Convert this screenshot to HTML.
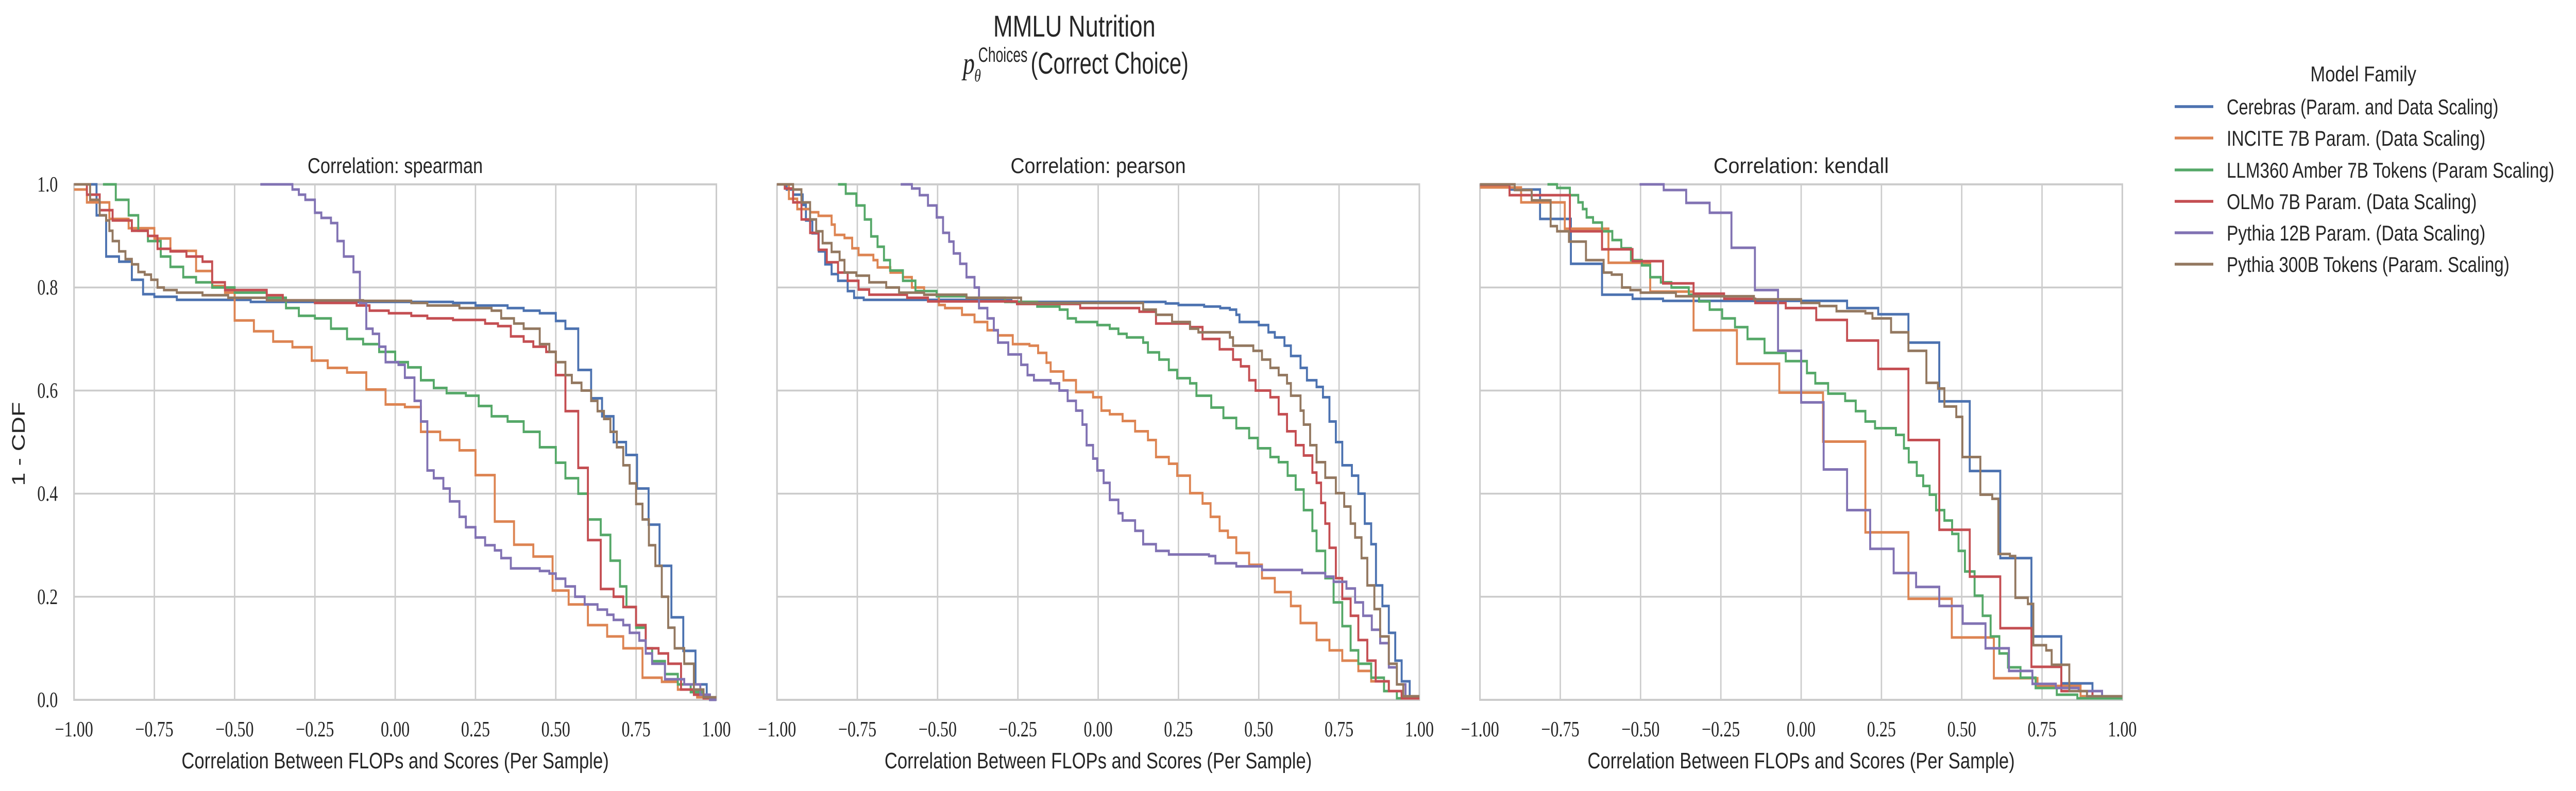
<!DOCTYPE html>
<html><head><meta charset="utf-8">
<style>
html,body{margin:0;padding:0;background:#fff;width:100vw;height:100vh;overflow:hidden;}
svg{display:block;width:100vw;height:100vh;}
.sans{font-family:"Liberation Sans","DejaVu Sans",sans-serif;fill:#262626;}
.serif{font-family:"Liberation Serif","DejaVu Serif",serif;fill:#262626;}
</style></head>
<body>
<svg id="fig" xmlns="http://www.w3.org/2000/svg" viewBox="0 0 6541 1536" preserveAspectRatio="none">
<rect x="0" y="0" width="6541" height="1536" fill="#fff"/>
<text class="sans" x="2522" y="71" font-size="58" textLength="412" lengthAdjust="spacingAndGlyphs">MMLU Nutrition</text>
<g>
<text class="serif" x="2445" y="143" font-size="60" font-style="italic">p</text>
<text class="serif" x="2474" y="158" font-size="34" font-style="italic">θ</text>
<text class="sans" x="2484" y="120" font-size="40" textLength="125" lengthAdjust="spacingAndGlyphs">Choices</text>
<text class="sans" x="2617" y="143" font-size="58" textLength="401" lengthAdjust="spacingAndGlyphs">(Correct Choice)</text>
</g>
<g id="panels"></g>
<g id="legend"></g>
</svg>
<script>
const NS="http://www.w3.org/2000/svg";
const seriesNames=["Cerebras (Param. and Data Scaling)","INCITE 7B Param. (Data Scaling)","LLM360 Amber 7B Tokens (Param Scaling)","OLMo 7B Param. (Data Scaling)","Pythia 12B Param. (Data Scaling)","Pythia 300B Tokens (Param. Scaling)"];
const seriesColors=["#4c72b0","#dd8452","#55a868","#c44e52","#8172b3","#937860"];
const panelTitles=["Correlation: spearman","Correlation: pearson","Correlation: kendall"];
const xTicks=[-1,-0.75,-0.5,-0.25,0,0.25,0.5,0.75,1];
const xTickLabels=["\u22121.00","\u22120.75","\u22120.50","\u22120.25","0.00","0.25","0.50","0.75","1.00"];
const yTicks=[0,0.2,0.4,0.6,0.8,1.0];
const yTickLabels=["0.0","0.2","0.4","0.6","0.8","1.0"];

// ---- spearman ----
const spX0=[-1,-0.93,-0.9,-0.86,-0.82,-0.785,-0.75,-0.68,-0.45,0.18,0.25,0.35,0.4,0.45,0.5,0.53,0.57,0.61,0.644,0.68,0.719,0.753,0.789,0.823,0.86,0.897,0.935,0.97];
const spY0=[1.0,0.94,0.86,0.85,0.815,0.787,0.782,0.776,0.772,0.77,0.765,0.76,0.755,0.75,0.735,0.72,0.64,0.585,0.55,0.5,0.475,0.41,0.34,0.26,0.16,0.095,0.03,0.005];
const spX1=[-1,-0.96,-0.89,-0.83,-0.75,-0.7,-0.62,-0.57,-0.53,-0.5,-0.44,-0.38,-0.32,-0.26,-0.21,-0.15,-0.09,-0.03,0.03,0.08,0.14,0.2,0.25,0.31,0.37,0.43,0.49,0.54,0.6,0.66,0.71,0.77,0.83,0.88,0.94];
const spY1=[0.99,0.965,0.933,0.915,0.895,0.871,0.832,0.803,0.79,0.736,0.715,0.695,0.684,0.658,0.644,0.635,0.602,0.573,0.568,0.52,0.504,0.484,0.436,0.346,0.301,0.278,0.212,0.185,0.145,0.123,0.1,0.043,0.035,0.02,0.005];
const spX2=[-0.91,-0.87,-0.83,-0.8,-0.77,-0.73,-0.7,-0.66,-0.62,-0.57,-0.5,-0.4,-0.34,-0.3,-0.25,-0.2,-0.15,-0.1,-0.05,0.0,0.04,0.08,0.12,0.16,0.22,0.26,0.3,0.35,0.4,0.45,0.5,0.53,0.57,0.6,0.64,0.67,0.7,0.72,0.75,0.78,0.8,0.84,0.88,0.92,0.96,0.99];
const spY2=[1.0,0.97,0.94,0.91,0.89,0.86,0.84,0.82,0.81,0.8,0.79,0.78,0.76,0.745,0.74,0.72,0.7,0.69,0.675,0.655,0.645,0.62,0.605,0.595,0.59,0.57,0.55,0.54,0.52,0.49,0.46,0.43,0.4,0.35,0.32,0.27,0.22,0.18,0.14,0.1,0.075,0.05,0.03,0.015,0.005,0];
const spX3=[-1,-0.96,-0.92,-0.88,-0.82,-0.77,-0.74,-0.7,-0.65,-0.6,-0.57,-0.53,-0.4,-0.35,-0.25,-0.12,-0.08,-0.02,0.05,0.1,0.18,0.28,0.32,0.36,0.4,0.43,0.47,0.5,0.53,0.57,0.6,0.64,0.68,0.71,0.75,0.78,0.82,0.85,0.89,0.93,0.96];
const spY3=[1.0,0.98,0.95,0.93,0.91,0.9,0.875,0.87,0.86,0.85,0.81,0.795,0.785,0.775,0.77,0.765,0.755,0.75,0.745,0.74,0.737,0.73,0.725,0.705,0.695,0.685,0.675,0.63,0.56,0.45,0.31,0.215,0.2,0.18,0.145,0.1,0.09,0.07,0.02,0.01,0.003];
const spX4=[-0.42,-0.32,-0.3,-0.28,-0.25,-0.23,-0.2,-0.18,-0.16,-0.13,-0.11,-0.09,-0.07,-0.05,-0.03,0.01,0.03,0.06,0.08,0.1,0.12,0.15,0.17,0.2,0.22,0.25,0.28,0.31,0.33,0.36,0.45,0.48,0.5,0.53,0.56,0.59,0.63,0.66,0.68,0.71,0.73,0.76,0.78,0.8,0.84,0.9,0.95,0.98];
const spY4=[1.0,0.99,0.98,0.97,0.945,0.935,0.925,0.89,0.86,0.83,0.77,0.72,0.71,0.685,0.655,0.65,0.625,0.58,0.54,0.445,0.43,0.41,0.385,0.355,0.335,0.315,0.3,0.29,0.275,0.255,0.25,0.245,0.235,0.22,0.2,0.185,0.175,0.165,0.155,0.145,0.13,0.115,0.09,0.07,0.04,0.03,0.01,0];
const spX5=[-1,-0.95,-0.92,-0.9,-0.89,-0.88,-0.86,-0.84,-0.82,-0.8,-0.78,-0.76,-0.74,-0.72,-0.68,-0.6,-0.52,-0.4,-0.1,0.05,0.1,0.2,0.3,0.33,0.37,0.4,0.45,0.48,0.5,0.53,0.55,0.58,0.61,0.63,0.65,0.67,0.69,0.71,0.73,0.75,0.77,0.79,0.81,0.83,0.85,0.87,0.9,0.93,0.96];
const spY5=[1,0.97,0.94,0.93,0.91,0.89,0.87,0.855,0.845,0.83,0.825,0.815,0.8,0.795,0.79,0.785,0.78,0.775,0.774,0.77,0.765,0.76,0.755,0.74,0.73,0.72,0.69,0.675,0.655,0.63,0.615,0.6,0.58,0.56,0.545,0.52,0.49,0.455,0.42,0.38,0.35,0.3,0.26,0.2,0.14,0.1,0.07,0.02,0.005];
// ---- pearson ----
const peX0=[-1,-0.97,-0.95,-0.92,-0.91,-0.89,-0.87,-0.85,-0.83,-0.81,-0.78,-0.76,-0.73,-0.29,-0.27,0.21,0.25,0.33,0.38,0.41,0.43,0.44,0.5,0.53,0.55,0.58,0.6,0.63,0.65,0.68,0.7,0.72,0.74,0.76,0.79,0.81,0.83,0.85,0.865,0.885,0.905,0.925,0.945,0.97];
const peY0=[1.0,0.99,0.98,0.96,0.93,0.905,0.87,0.845,0.826,0.813,0.793,0.78,0.776,0.775,0.772,0.769,0.766,0.763,0.76,0.757,0.747,0.733,0.727,0.713,0.703,0.687,0.667,0.644,0.62,0.607,0.587,0.54,0.5,0.455,0.435,0.4,0.342,0.302,0.222,0.182,0.13,0.076,0.036,0.007];
const peX1=[-1,-0.963,-0.937,-0.897,-0.871,-0.83,-0.82,-0.79,-0.766,-0.746,-0.7,-0.687,-0.647,-0.608,-0.58,-0.542,-0.496,-0.477,-0.424,-0.385,-0.345,-0.312,-0.266,-0.214,-0.187,-0.161,-0.148,-0.108,-0.069,-0.016,0.01,0.036,0.076,0.115,0.155,0.18,0.22,0.246,0.286,0.325,0.35,0.378,0.404,0.43,0.47,0.51,0.55,0.6,0.63,0.68,0.72,0.76,0.81,0.85,0.905,0.945];
const peY1=[1.0,0.972,0.952,0.946,0.939,0.922,0.902,0.896,0.876,0.863,0.853,0.839,0.829,0.82,0.8,0.786,0.766,0.76,0.747,0.733,0.717,0.707,0.69,0.687,0.673,0.654,0.637,0.62,0.597,0.587,0.561,0.554,0.541,0.521,0.504,0.471,0.458,0.435,0.401,0.381,0.355,0.328,0.315,0.285,0.262,0.236,0.209,0.182,0.149,0.116,0.096,0.076,0.056,0.036,0.017,0.003];
const peX2=[-0.81,-0.786,-0.753,-0.727,-0.707,-0.687,-0.667,-0.648,-0.608,-0.569,-0.503,-0.41,-0.29,-0.19,-0.12,-0.095,-0.069,-0.003,0.036,0.063,0.089,0.14,0.155,0.19,0.22,0.246,0.286,0.306,0.352,0.39,0.43,0.47,0.497,0.536,0.562,0.59,0.615,0.64,0.667,0.68,0.707,0.733,0.76,0.786,0.81,0.85,0.89,0.93];
const peY2=[1.0,0.982,0.959,0.932,0.899,0.879,0.853,0.833,0.813,0.793,0.783,0.78,0.772,0.763,0.757,0.74,0.733,0.727,0.72,0.71,0.703,0.693,0.674,0.66,0.64,0.624,0.614,0.59,0.567,0.547,0.527,0.508,0.488,0.471,0.461,0.435,0.408,0.368,0.328,0.289,0.236,0.189,0.143,0.096,0.07,0.043,0.017,0.003];
const peX3=[-1,-0.976,-0.95,-0.924,-0.897,-0.871,-0.845,-0.81,-0.78,-0.746,-0.713,-0.595,-0.53,-0.253,-0.056,0.128,0.18,0.286,0.325,0.378,0.42,0.444,0.47,0.49,0.536,0.562,0.588,0.615,0.64,0.667,0.68,0.694,0.707,0.72,0.74,0.76,0.786,0.81,0.838,0.864,0.905,0.945];
const peY3=[1.0,0.992,0.965,0.932,0.906,0.873,0.849,0.829,0.813,0.796,0.786,0.78,0.773,0.768,0.76,0.753,0.73,0.723,0.7,0.68,0.66,0.647,0.62,0.6,0.587,0.554,0.521,0.494,0.474,0.441,0.421,0.382,0.342,0.295,0.236,0.196,0.163,0.116,0.076,0.036,0.017,0.003];
const peX4=[-0.615,-0.58,-0.556,-0.53,-0.503,-0.483,-0.464,-0.45,-0.43,-0.41,-0.385,-0.371,-0.345,-0.325,-0.312,-0.28,-0.24,-0.22,-0.2,-0.148,-0.121,-0.095,-0.069,-0.049,-0.036,-0.016,-0.003,0.017,0.036,0.063,0.076,0.115,0.14,0.18,0.22,0.345,0.365,0.43,0.51,0.635,0.707,0.733,0.773,0.8,0.825,0.852,0.878,0.905,0.93,0.957];
const peY4=[1.0,0.992,0.979,0.959,0.936,0.906,0.889,0.866,0.846,0.82,0.8,0.76,0.74,0.717,0.693,0.67,0.65,0.63,0.62,0.614,0.6,0.58,0.561,0.534,0.494,0.468,0.445,0.421,0.388,0.362,0.348,0.328,0.302,0.289,0.282,0.279,0.265,0.259,0.252,0.246,0.239,0.229,0.216,0.189,0.163,0.136,0.11,0.063,0.03,0.007];
const peX5=[-1,-0.95,-0.924,-0.897,-0.878,-0.858,-0.83,-0.805,-0.79,-0.753,-0.713,-0.66,-0.62,-0.542,-0.41,-0.24,0.14,0.18,0.23,0.286,0.312,0.41,0.42,0.483,0.51,0.536,0.562,0.588,0.6,0.63,0.64,0.66,0.68,0.707,0.74,0.766,0.786,0.8,0.82,0.838,0.86,0.878,0.905,0.93,0.95];
const peY5=[1.0,0.99,0.965,0.932,0.909,0.886,0.869,0.853,0.829,0.823,0.81,0.8,0.79,0.786,0.78,0.77,0.757,0.747,0.733,0.72,0.713,0.703,0.687,0.677,0.66,0.644,0.63,0.614,0.59,0.561,0.534,0.494,0.461,0.431,0.401,0.375,0.342,0.315,0.275,0.222,0.176,0.123,0.07,0.03,0.007];
// ---- kendall ----
const keX0=[-1,-0.908,-0.813,-0.717,-0.62,-0.525,-0.43,0.143,0.24,0.334,0.43,0.525,0.62,0.717,0.81,0.907];
const keY0=[0.998,0.99,0.933,0.846,0.786,0.778,0.774,0.76,0.748,0.693,0.579,0.444,0.275,0.123,0.032,0.005];
const keX1=[-1,-0.872,-0.736,-0.6,-0.47,-0.335,-0.2,-0.068,0.068,0.2,0.334,0.469,0.6,0.736,0.87];
const keY1=[0.994,0.965,0.914,0.848,0.792,0.717,0.652,0.596,0.501,0.325,0.196,0.121,0.042,0.027,0.007];
const keX2=[-0.79,-0.76,-0.72,-0.694,-0.68,-0.668,-0.648,-0.62,-0.588,-0.56,-0.53,-0.496,-0.47,-0.437,-0.404,-0.35,-0.318,-0.285,-0.246,-0.206,-0.167,-0.114,-0.048,0.018,0.044,0.084,0.137,0.17,0.2,0.23,0.295,0.32,0.335,0.36,0.38,0.4,0.42,0.446,0.47,0.49,0.51,0.54,0.565,0.59,0.617,0.644,0.683,0.73,0.796,0.86];
const keY2=[1.0,0.993,0.979,0.965,0.952,0.936,0.926,0.909,0.892,0.876,0.853,0.843,0.82,0.81,0.8,0.786,0.773,0.757,0.74,0.723,0.7,0.673,0.657,0.634,0.614,0.594,0.58,0.56,0.54,0.527,0.514,0.488,0.461,0.435,0.415,0.398,0.368,0.348,0.322,0.289,0.249,0.202,0.163,0.123,0.09,0.063,0.043,0.023,0.01,0.003];
const keX3=[-1,-0.908,-0.72,-0.62,-0.525,-0.43,-0.335,-0.24,-0.143,-0.048,0.047,0.143,0.24,0.334,0.43,0.525,0.62,0.717,0.81,0.907];
const keY3=[0.999,0.979,0.909,0.874,0.851,0.808,0.788,0.778,0.77,0.76,0.737,0.697,0.642,0.504,0.33,0.239,0.139,0.064,0.017,0.007];
const keX4=[-0.503,-0.428,-0.358,-0.285,-0.217,-0.144,-0.072,0.0,0.07,0.143,0.215,0.288,0.358,0.43,0.503,0.574,0.647,0.72,0.793,0.864,0.937];
const keY4=[1.0,0.989,0.964,0.945,0.877,0.795,0.677,0.577,0.447,0.368,0.293,0.246,0.219,0.182,0.148,0.1,0.056,0.031,0.023,0.017,0.007];
const keX5=[-1,-0.892,-0.839,-0.78,-0.76,-0.723,-0.67,-0.615,-0.59,-0.558,-0.532,-0.5,-0.39,-0.147,0,0.057,0.11,0.2,0.222,0.28,0.334,0.39,0.426,0.446,0.483,0.502,0.558,0.595,0.614,0.65,0.667,0.706,0.723,0.763,0.78,0.835,0.89];
const keY5=[1.0,0.989,0.969,0.919,0.909,0.889,0.853,0.829,0.825,0.8,0.795,0.79,0.783,0.777,0.77,0.764,0.754,0.75,0.74,0.713,0.677,0.615,0.604,0.569,0.549,0.471,0.398,0.39,0.283,0.279,0.198,0.186,0.106,0.096,0.068,0.017,0.007];

const panelXs=[[spX0,spX1,spX2,spX3,spX4,spX5],[peX0,peX1,peX2,peX3,peX4,peX5],[keX0,keX1,keX2,keX3,keX4,keX5]];
const panelYs=[[spY0,spY1,spY2,spY3,spY4,spY5],[peY0,peY1,peY2,peY3,peY4,peY5],[keY0,keY1,keY2,keY3,keY4,keY5]];

const panelLeft=[188,1973,3758], PW=1631, PT=358, PB=1359;
function mk(tag,attrs,parent){const e=document.createElementNS(NS,tag);for(const k in attrs)e.setAttribute(k,attrs[k]);parent.appendChild(e);return e;}
const panelsG=document.getElementById('panels');
panelLeft.forEach((L,pi)=>{
  const sx=v=>L+(v+1)/2*PW;
  const sy=v=>PB-v*(PB-PT);
  const g=mk('g',{},panelsG);
  
  
  xTicks.forEach((t,i)=>{
    const l=mk('line',{x1:sx(t),x2:sx(t),y1:PT,y2:PB,stroke:'#cccccc','stroke-width':3.5},g);
    
    
    const tx=mk('text',{x:sx(t),y:1430,'font-size':42,'text-anchor':'middle',class:'serif'},g);
    
    
    tx.textContent=xTickLabels[i];
  });
  yTicks.forEach((t,i)=>{
    const l=mk('line',{x1:L,x2:L+PW,y1:sy(t),y2:sy(t),stroke:'#cccccc','stroke-width':3.5},g);
    
    
    if(pi===0){
      const tx=mk('text',{x:147,y:sy(t)+14,'font-size':42,'text-anchor':'end',class:'serif'},g);
      
      
      tx.textContent=yTickLabels[i];
    }
  });
  const fr=mk('rect',{x:L,y:PT,width:PW,height:PB-PT,fill:'none',stroke:'#cccccc','stroke-width':4},g);
  
  
  panelXs[pi].forEach((xs,si)=>{
    const ys=panelYs[pi][si];
    let d='M'+sx(xs[0]).toFixed(1)+','+sy(ys[0]).toFixed(1);
    for(let k=1;k<xs.length;k++){d+='H'+sx(xs[k]).toFixed(1)+'V'+sy(ys[k]).toFixed(1);}
    d+='H'+sx(1).toFixed(1);
    const p=mk('path',{d:d,fill:'none',stroke:seriesColors[si],'stroke-width':5,'stroke-linejoin':'miter','stroke-linecap':'butt'},g);
    
    
  });
  const t=mk('text',{x:L+PW/2,y:336,'font-size':42,'text-anchor':'middle',class:'sans',textLength:445,lengthAdjust:'spacingAndGlyphs'},g);
  
  
  t.textContent=panelTitles[pi];
  const xl=mk('text',{x:L+PW/2,y:1492,'font-size':44,'text-anchor':'middle',class:'sans',textLength:1085,lengthAdjust:'spacingAndGlyphs'},g);
  
  
  xl.textContent='Correlation Between FLOPs and Scores (Per Sample)';
});
const yl=mk('text',{x:0,y:0,'font-size':46,'text-anchor':'middle',class:'sans',transform:'translate(63,862) rotate(-90)',textLength:163,lengthAdjust:'spacingAndGlyphs'},panelsG);


yl.textContent='1 - CDF';
const lg=document.getElementById('legend');
const lt=mk('text',{x:6001,y:158,'font-size':42,'text-anchor':'middle',class:'sans',textLength:269,lengthAdjust:'spacingAndGlyphs'},lg);


lt.textContent='Model Family';
const legendWidths=[690,657,832,635,657,718];
const legendRows=[207,268,330,391,452,513];
seriesNames.forEach((n,i)=>{
  const eg=mk('g',{},lg);
  
  
  mk('line',{x1:5522,x2:5620,y1:legendRows[i],y2:legendRows[i],stroke:seriesColors[i],'stroke-width':5.5},eg);
  const tx=mk('text',{x:5654,y:legendRows[i]+15,'font-size':42,class:'sans',textLength:legendWidths[i],lengthAdjust:'spacingAndGlyphs'},eg);
  tx.textContent=n;
});
</script>
</body></html>
